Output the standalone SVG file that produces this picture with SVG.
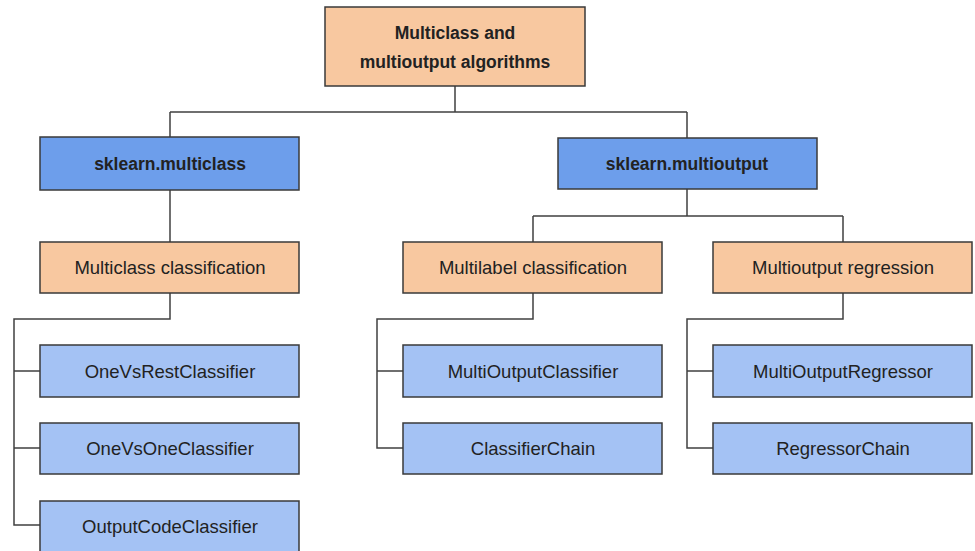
<svg xmlns="http://www.w3.org/2000/svg" width="975" height="551" viewBox="0 0 975 551">
  <style>
    .box { stroke: #3a3a3a; stroke-width: 1.5; }
    .root { fill: #f8c8a0; }
    .pkg { fill: #6d9eeb; }
    .cat { fill: #f8c8a0; }
    .cls { fill: #a4c2f4; }
    .lbl { font-family: "Liberation Sans", Arial, sans-serif; font-size: 18.5px; fill: #222; text-anchor: middle; }
    .bold { font-weight: bold; font-size: 17.5px; }
    .wire { fill: none; stroke: #404040; stroke-width: 1.5; }
  </style>
  <rect width="975" height="551" fill="#ffffff"/>

  <!-- connectors -->
  <g id="connectors">
    <path class="wire" d="M455 86 V112 M170 112 H687 M170 112 V137 M687 112 V138"/>
    <path class="wire" d="M170 190 V242"/>
    <path class="wire" d="M687 189 V216 M533 216 H843 M533 216 V242 M843 216 V242"/>
    <path class="wire" d="M170 293 V319 H14 V525 H40 M14 371 H40 M14 448 H40"/>
    <path class="wire" d="M533 293 V319 H377 V448 H403 M377 371 H403"/>
    <path class="wire" d="M843 293 V319 H687 V448 H713 M687 371 H713"/>
  </g>

  <g id="root">
    <rect class="box root" x="325" y="7" width="260" height="79"/>
    <text class="lbl bold" x="455" y="39">Multiclass and</text>
    <text class="lbl bold" x="455" y="68">multioutput algorithms</text>
  </g>

  <g id="sklearn-multiclass">
    <rect class="box pkg" x="40" y="137" width="259" height="53"/>
    <text class="lbl bold" x="170" y="170">sklearn.multiclass</text>
  </g>
  <g id="sklearn-multioutput">
    <rect class="box pkg" x="558" y="138" width="259" height="51"/>
    <text class="lbl bold" x="687" y="170">sklearn.multioutput</text>
  </g>

  <g id="multiclass-classification">
    <rect class="box cat" x="40" y="242" width="259" height="51"/>
    <text class="lbl" x="170" y="274">Multiclass classification</text>
  </g>
  <g id="multilabel-classification">
    <rect class="box cat" x="403" y="242" width="259" height="51"/>
    <text class="lbl" x="533" y="274">Multilabel classification</text>
  </g>
  <g id="multioutput-regression">
    <rect class="box cat" x="713" y="242" width="259" height="51"/>
    <text class="lbl" x="843" y="274">Multioutput regression</text>
  </g>

  <g id="onevsrest">
    <rect class="box cls" x="40" y="345" width="259" height="52"/>
    <text class="lbl" x="170" y="378">OneVsRestClassifier</text>
  </g>
  <g id="onevsone">
    <rect class="box cls" x="40" y="423" width="259" height="51"/>
    <text class="lbl" x="170" y="455">OneVsOneClassifier</text>
  </g>
  <g id="outputcode">
    <rect class="box cls" x="40" y="501" width="259" height="53"/>
    <text class="lbl" x="170" y="533">OutputCodeClassifier</text>
  </g>

  <g id="multioutputclassifier">
    <rect class="box cls" x="403" y="345" width="259" height="52"/>
    <text class="lbl" x="533" y="378">MultiOutputClassifier</text>
  </g>
  <g id="classifierchain">
    <rect class="box cls" x="403" y="423" width="259" height="51"/>
    <text class="lbl" x="533" y="455">ClassifierChain</text>
  </g>

  <g id="multioutputregressor">
    <rect class="box cls" x="713" y="345" width="259" height="52"/>
    <text class="lbl" x="843" y="378">MultiOutputRegressor</text>
  </g>
  <g id="regressorchain">
    <rect class="box cls" x="713" y="423" width="259" height="51"/>
    <text class="lbl" x="843" y="455">RegressorChain</text>
  </g>
</svg>
